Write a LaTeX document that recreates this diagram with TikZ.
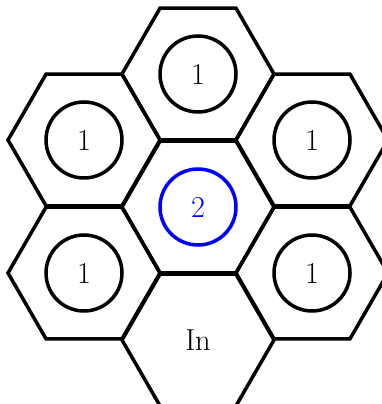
\documentclass[tikz,border=0pt]{standalone}
\usepackage{tikz}
\usetikzlibrary{shapes.geometric}

\begin{document}
\begin{tikzpicture}[x=0.02cm, y=-0.02cm,
  cell/.style={regular polygon, regular polygon sides=6, draw, line width=2pt, minimum size=3.04cm, inner sep=0pt},
  ball/.style={circle, draw, line width=2pt, minimum size=1.52cm, inner sep=0pt, font=\LARGE}]
\useasboundingbox (0,0) rectangle (381,404);

% Hexagonal cells
\node[cell] (mid) at (198,207) {};
\node[cell] (top) at (198,74) {};
\node[cell] (upleft) at (84,140) {};
\node[cell] (upright) at (312,140) {};
\node[cell] (lowleft) at (84,273) {};
\node[cell] (lowright) at (312,273) {};
\node[cell, font=\LARGE] (bottom) at (198,340) {In};

% Counts in the cells
\node[ball, blue] (nmid) at (mid) {2};
\node[ball] (ntop) at (top) {1};
\node[ball] (nupleft) at (upleft) {1};
\node[ball] (nupright) at (upright) {1};
\node[ball] (nlowleft) at (lowleft) {1};
\node[ball] (nlowright) at (lowright) {1};
\end{tikzpicture}
\end{document}
